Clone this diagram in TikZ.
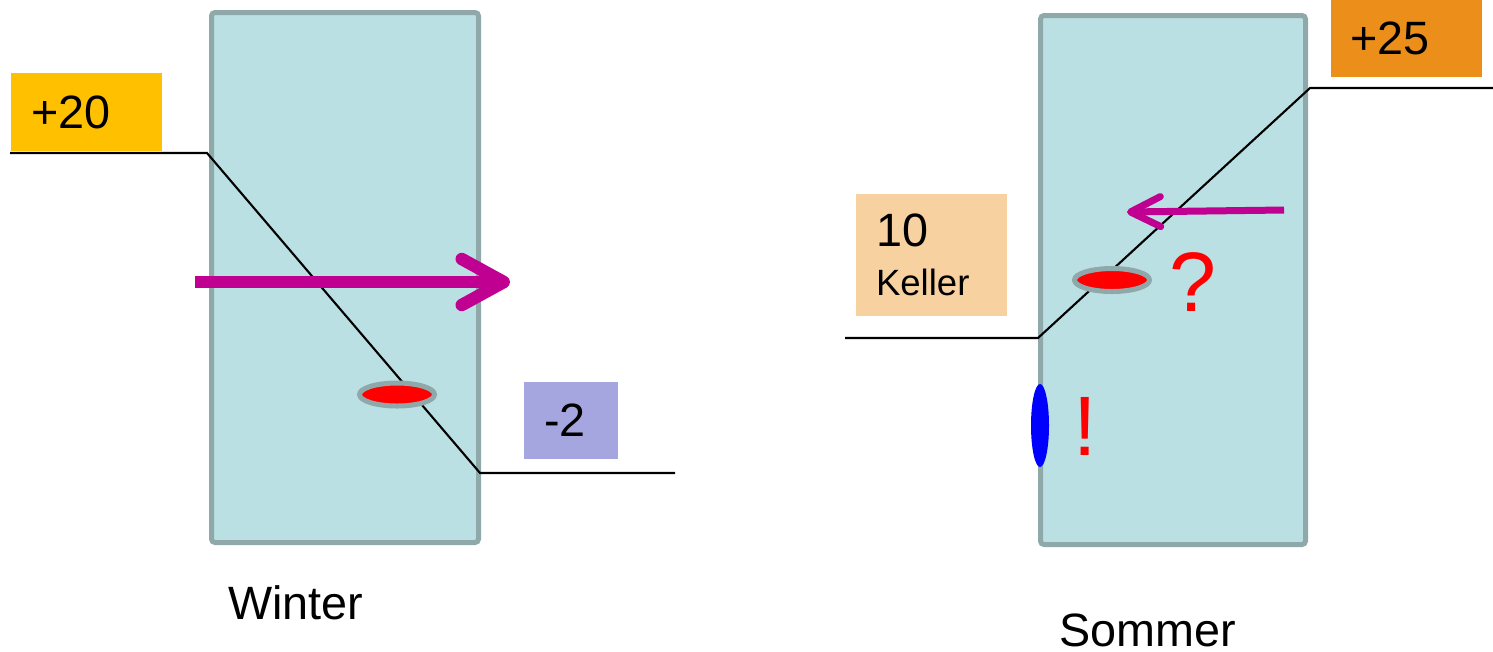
\documentclass[tikz,border=0pt]{standalone}
\usepackage{fontspec}
\setmainfont{Liberation Sans}
\usepackage{xcolor}
\usepackage{tikz}
\usetikzlibrary{arrows.meta, shapes.geometric}
\definecolor{wallfill}{HTML}{BBE0E3}
\definecolor{wallrim}{HTML}{8FA9AA}
\definecolor{flowcol}{HTML}{BF0090}
\definecolor{warmbox}{HTML}{FFC000}
\definecolor{coldbox}{HTML}{A5A5E0}
\definecolor{hotbox}{HTML}{EB8E1A}
\definecolor{cellarbox}{HTML}{F8D1A0}

\begin{document}
\begin{tikzpicture}
\tikzstyle{wall}=[draw=wallrim, fill=wallfill, line width=0.05cm, rounded corners=1pt, inner sep=0pt]
\tikzstyle{temp}=[inner xsep=0.2cm, inner ysep=0pt, text width=1.11cm, align=left,
  minimum height=0.78cm, font=\fontsize{13.3}{14}\selectfont]
\tikzstyle{profile}=[line width=0.6pt, black]
\tikzstyle{spot}=[ellipse, draw=wallrim, fill=red, line width=0.05cm, minimum width=0.75cm,
  minimum height=0.23cm, inner sep=0pt]
\tikzstyle{sign}=[text=red, font=\fontsize{24}{24}\selectfont, inner sep=0pt]
\tikzstyle{season}=[font=\fontsize{13.3}{14}\selectfont, inner sep=0pt]
\useasboundingbox (0,0) rectangle (14.93,6.51);

% walls
\node[wall, minimum width=2.67cm, minimum height=5.30cm] (WW) at (3.45,3.735) {};
\node[wall, minimum width=2.65cm, minimum height=5.29cm] (SW) at (11.73,3.71) {};

% temperatures
\node[temp, fill=warmbox] (T20) at (0.865,5.39) {+20};
\node[temp, fill=coldbox, text width=0.54cm, minimum height=0.77cm] (T2) at (5.71,2.305) {-2};
\node[temp, fill=hotbox, minimum height=0.77cm] (T25) at (14.06,6.125) {+25};
\node[temp, fill=cellarbox, minimum height=1.22cm] (T10) at (9.315,3.96)
  {10\\[0pt]{\fontsize{10.4}{14}\selectfont Keller}};

% temperature profiles
\coordinate (wA) at (0.10,4.98);
\coordinate (wB) at (2.07,4.98);
\coordinate (wC) at (4.80,1.78);
\coordinate (wD) at (6.75,1.78);
\coordinate (sA) at (8.45,3.13);
\coordinate (sB) at (10.38,3.13);
\coordinate (sC) at (13.10,5.63);
\coordinate (sD) at (14.93,5.63);
\draw[profile] (wA) -- (wB) -- (wC) -- (wD);
\draw[profile] (sA) -- (sB) -- (sC) -- (sD);

% heat flow
\coordinate (wF1) at (1.95,3.69);
\coordinate (wF2) at (5.10,3.69);
\coordinate (sF1) at (12.84,4.41);
\coordinate (sF2) at (11.27,4.39);
\draw[flowcol, line width=0.125cm, -{Straight Barb[length=0.42cm, width=0.46cm, round]}] (wF1) -- (wF2);
\draw[flowcol, line width=0.07cm, -{Straight Barb[length=0.3cm, width=0.3cm, round]}] (sF1) -- (sF2);

% condensation
\node[spot] (wDew) at (3.97,2.565) {};
\node[spot] (sDew) at (11.12,3.71) {};
\node[ellipse, fill=blue, minimum width=0.18cm, minimum height=0.83cm, inner sep=0pt] (sWet) at (10.40,2.255) {};
\node[sign] (ask) at (11.93,3.69) {?};
\node[sign] (warn) at (10.85,2.25) {!};

% seasons
\node[season] (win) at (2.96,0.48) {Winter};
\node[season] (som) at (11.48,0.21) {Sommer};
\end{tikzpicture}
\end{document}
